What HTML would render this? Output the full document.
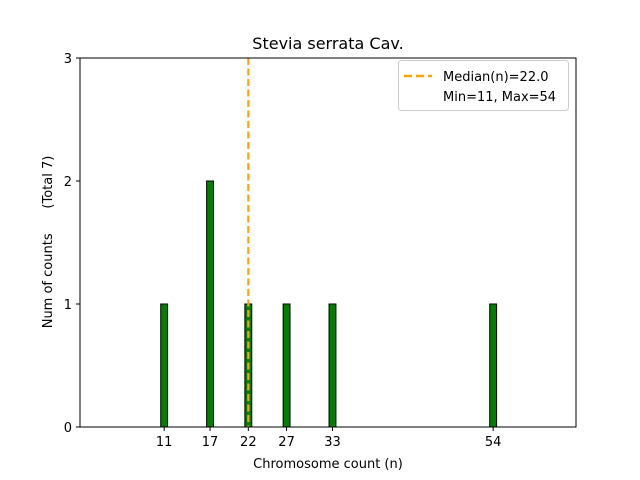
<!DOCTYPE html>
<html><head><meta charset="utf-8"><style>
body{margin:0;background:#fff;}
svg{display:block;font-family:"DejaVu Sans","Liberation Sans",sans-serif;}
</style></head><body>
<svg id="chart" width="640" height="480" viewBox="0 0 640 480">
<rect width="640" height="480" fill="#fff"/>
<text x="328" y="49" font-size="16" text-anchor="middle">Stevia serrata Cav.</text>
<g id="bars"></g>
<g id="xticks"></g>
<g id="yticks"></g>
<line id="median" stroke="#ffa500" stroke-width="2.2" stroke-dasharray="7,3.5"/>
<rect x="80" y="58" width="496" height="369" fill="none" stroke="#000" stroke-width="1"/>
<text x="328" y="468" font-size="13" text-anchor="middle">Chromosome count (n)</text>
<text transform="translate(52,242) rotate(-90)" font-size="13" text-anchor="middle" style="white-space:pre" xml:space="preserve">Num of counts      (Total 7)</text>
<g>
<rect x="398.5" y="60.5" width="170" height="50" rx="3" fill="#fff" fill-opacity="0.8" stroke="#ccc"/>
<line x1="404" y1="76" x2="432" y2="76" stroke="#ffa500" stroke-width="2.5" stroke-dasharray="8,4"/>
<text x="443" y="81" font-size="13">Median(n)=22.0</text>
<text x="443" y="101" font-size="13">Min=11, Max=54</text>
</g>
</svg>
<script>
const categories=[11,17,22,27,33,54];
const counts=[1,2,1,1,1,1];
const yTickLabels=[0,1,2,3];
const medianValue=22;
const NS="http://www.w3.org/2000/svg";
const xs=v=>80+v*7.651;
const ys=v=>427-v*123;
function mk(tag,attrs,parent){const e=document.createElementNS(NS,tag);for(const k in attrs)e.setAttribute(k,attrs[k]);parent.appendChild(e);return e;}
const bars=document.getElementById('bars');
const bl=mk('line',{x1:80,x2:xs(57),y1:427,y2:427,stroke:'#aaa','stroke-width':1},bars);


categories.forEach((c,i)=>{
 const r=mk('rect',{x:xs(c-0.45),y:ys(counts[i]),width:xs(c+0.45)-xs(c-0.45),height:ys(0)-ys(counts[i]),fill:'#008000',stroke:'#000','stroke-width':1},bars);
 
 
});
const xt=document.getElementById('xticks');
categories.forEach(c=>{
 const l=mk('line',{x1:xs(c),x2:xs(c),y1:427,y2:431,stroke:'#000'},xt);
 
 
 const t=mk('text',{x:xs(c),y:446,'font-size':13,'text-anchor':'middle'},xt);
 t.textContent=c;
 
 
});
const yt=document.getElementById('yticks');
yTickLabels.forEach(v=>{
 const l=mk('line',{x1:76,x2:80,y1:ys(v),y2:ys(v),stroke:'#000'},yt);
 
 
 const t=mk('text',{x:72,y:ys(v)+5,'font-size':13,'text-anchor':'end'},yt);
 t.textContent=v;
 
 
});
const m=document.getElementById('median');
m.setAttribute('x1',xs(medianValue));m.setAttribute('x2',xs(medianValue));
m.setAttribute('y1',ys(3));m.setAttribute('y2',ys(0));
</script>
</body></html>
